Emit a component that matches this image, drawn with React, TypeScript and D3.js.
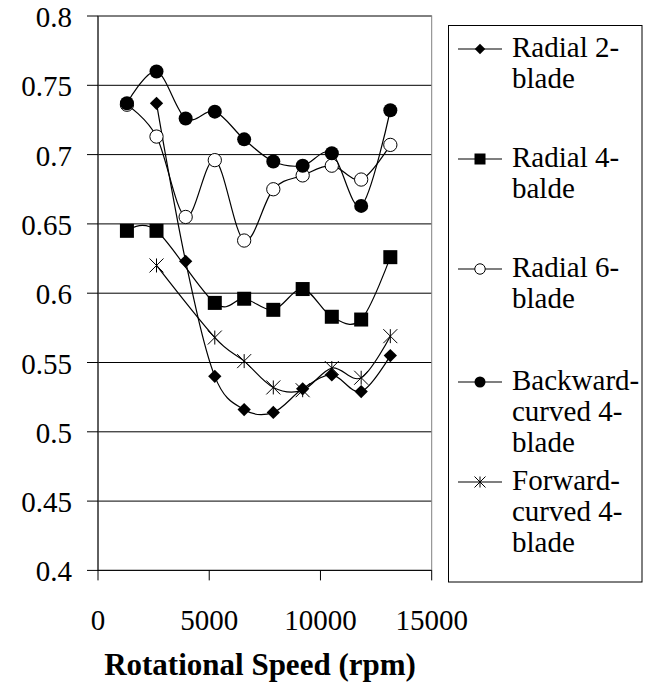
import React from 'react';
import * as d3 from 'd3';

// ---------- data ----------
const rpm = [1300, 2630, 3940, 5250, 6570, 7880, 9200, 10510, 11830, 13140];
const radial2 = [null, 0.737, 0.623, 0.54, 0.516, 0.514, 0.531, 0.541, 0.529, 0.555];
const radial4 = [0.645, 0.645, null, 0.593, 0.596, 0.588, 0.603, 0.583, 0.581, 0.626];
const radial6 = [0.736, 0.713, 0.655, 0.696, 0.638, 0.675, 0.685, 0.692, 0.682, 0.707];
const backward4 = [0.737, 0.76, 0.726, 0.731, 0.711, 0.695, 0.692, 0.701, 0.663, 0.732];
const forward4 = [null, 0.62, null, 0.568, 0.551, 0.532, 0.53, 0.546, 0.539, 0.569];

const seriesLabels = [
  ['Radial 2-', 'blade'],
  ['Radial 4-', 'balde'],
  ['Radial 6-', 'blade'],
  ['Backward-', 'curved 4-', 'blade'],
  ['Forward-', 'curved 4-', 'blade'],
];
const markerKinds = ['diamond', 'square', 'openCircle', 'filledCircle', 'asterisk'];

const xTicks = [0, 5000, 10000, 15000];
const yTicks = [0.4, 0.45, 0.5, 0.55, 0.6, 0.65, 0.7, 0.75, 0.8];
const yTickLabels = ['0.4', '0.45', '0.5', '0.55', '0.6', '0.65', '0.7', '0.75', '0.8'];
const xTitle = 'Rotational Speed (rpm)';

// ---------- layout ----------
const W = 649;
const H = 688;
const plot = { left: 98, right: 431.7, top: 16, bottom: 570.4 };
const legendBox = { x: 448.5, y: 25.5, w: 193.5, h: 556.5 };
const legendFirstBaselines = [57, 167, 277, 390, 490];
const legendLineGap = 31;
const FONT = "'Liberation Serif', 'Times New Roman', Times, 'DejaVu Serif', serif";
const FS = 29;

const x = d3.scaleLinear().domain([0, 15000]).range([plot.left, plot.right]);
const y = d3.scaleLinear().domain([0.4, 0.8]).range([plot.bottom, plot.top]);

const allSeries = [radial2, radial4, radial6, backward4, forward4];

function Marker({ kind, cx, cy, s }: { kind: string; cx: number; cy: number; s: number }) {
  if (kind === 'diamond') {
    const h = s * 0.95;
    return <path d={`M${cx},${cy - h}L${cx + h},${cy}L${cx},${cy + h}L${cx - h},${cy}Z`} fill="#000" />;
  }
  if (kind === 'square') {
    return <rect x={cx - s} y={cy - s} width={2 * s} height={2 * s} fill="#000" />;
  }
  if (kind === 'openCircle') {
    return <circle cx={cx} cy={cy} r={s * 0.95} fill="#fff" stroke="#000" strokeWidth={1} />;
  }
  if (kind === 'filledCircle') {
    return <circle cx={cx} cy={cy} r={s} fill="#000" />;
  }
  const h = s;
  return (
    <path
      d={`M${cx - h},${cy - h}L${cx + h},${cy + h}M${cx - h},${cy + h}L${cx + h},${cy - h}M${cx},${cy - h}L${cx},${cy + h}`}
      stroke="#000"
      strokeWidth={1}
      fill="none"
    />
  );
}

export default function App() {
  const lineGen = d3
    .line<[number, number]>()
    .x((d) => x(d[0]))
    .y((d) => y(d[1]))
    .curve(d3.curveCardinal.tension(0));

  const pts = allSeries.map((s) =>
    s.map((v, i) => (v == null ? null : ([rpm[i], v] as [number, number]))).filter((p) => p != null) as [number, number][]
  );

  const txt = { fontFamily: FONT, fontSize: FS };

  return (
    <svg width={W} height={H} style={{ position: 'absolute', left: 0, top: 0, background: '#fff' }}>
      {/* gridlines */}
      {yTicks.map((t) => (
        <line key={'g' + t} x1={plot.left} x2={plot.right} y1={y(t)} y2={y(t)} stroke="#000" strokeWidth={1} />
      ))}
      {/* plot area border */}
      <rect
        x={plot.left}
        y={plot.top}
        width={plot.right - plot.left}
        height={plot.bottom - plot.top}
        fill="none"
        stroke="#808080"
        strokeWidth={1}
      />
      {/* axes */}
      <line x1={plot.left} x2={plot.left} y1={plot.top} y2={plot.bottom} stroke="#000" strokeWidth={1} />
      <line x1={plot.left} x2={plot.right} y1={plot.bottom} y2={plot.bottom} stroke="#000" strokeWidth={1} />
      {yTicks.map((t, i) => (
        <g key={'yt' + t}>
          <line x1={plot.left - 11} x2={plot.left} y1={y(t)} y2={y(t)} stroke="#000" strokeWidth={1} />
          <text x={72} y={y(t) + 11} textAnchor="end" style={txt}>
            {yTickLabels[i]}
          </text>
        </g>
      ))}
      {xTicks.map((t) => (
        <g key={'xt' + t}>
          <line x1={x(t)} x2={x(t)} y1={plot.bottom} y2={plot.bottom + 10} stroke="#000" strokeWidth={1} />
          <text x={x(t)} y={630} textAnchor="middle" style={txt}>
            {t}
          </text>
        </g>
      ))}
      <text x={260} y={675} textAnchor="middle" style={{ fontFamily: FONT, fontSize: 31, fontWeight: 'bold' }}>
        {xTitle}
      </text>

      {/* series */}
      {pts.map((p, si) => (
        <g key={'s' + si}>
          <path d={lineGen(p) || ''} fill="none" stroke="#000" strokeWidth={1.2} />
          {p.map((d, j) => (
            <Marker key={j} kind={markerKinds[si]} cx={x(d[0])} cy={y(d[1])} s={7} />
          ))}
        </g>
      ))}

      {/* legend */}
      <rect
        x={legendBox.x}
        y={legendBox.y}
        width={legendBox.w}
        height={legendBox.h}
        fill="#fff"
        stroke="#000"
        strokeWidth={1}
      />
      {seriesLabels.map((lines, i) => {
        const b = legendFirstBaselines[i];
        const my = b - 8;
        return (
          <g key={'l' + i}>
            <line x1={458} x2={502} y1={my} y2={my} stroke="#000" strokeWidth={1.2} />
            <Marker kind={markerKinds[i]} cx={480} cy={my} s={5.5} />
            {lines.map((ln, k) => (
              <text key={k} x={512} y={b + k * legendLineGap} style={txt}>
                {ln}
              </text>
            ))}
          </g>
        );
      })}
    </svg>
  );
}
